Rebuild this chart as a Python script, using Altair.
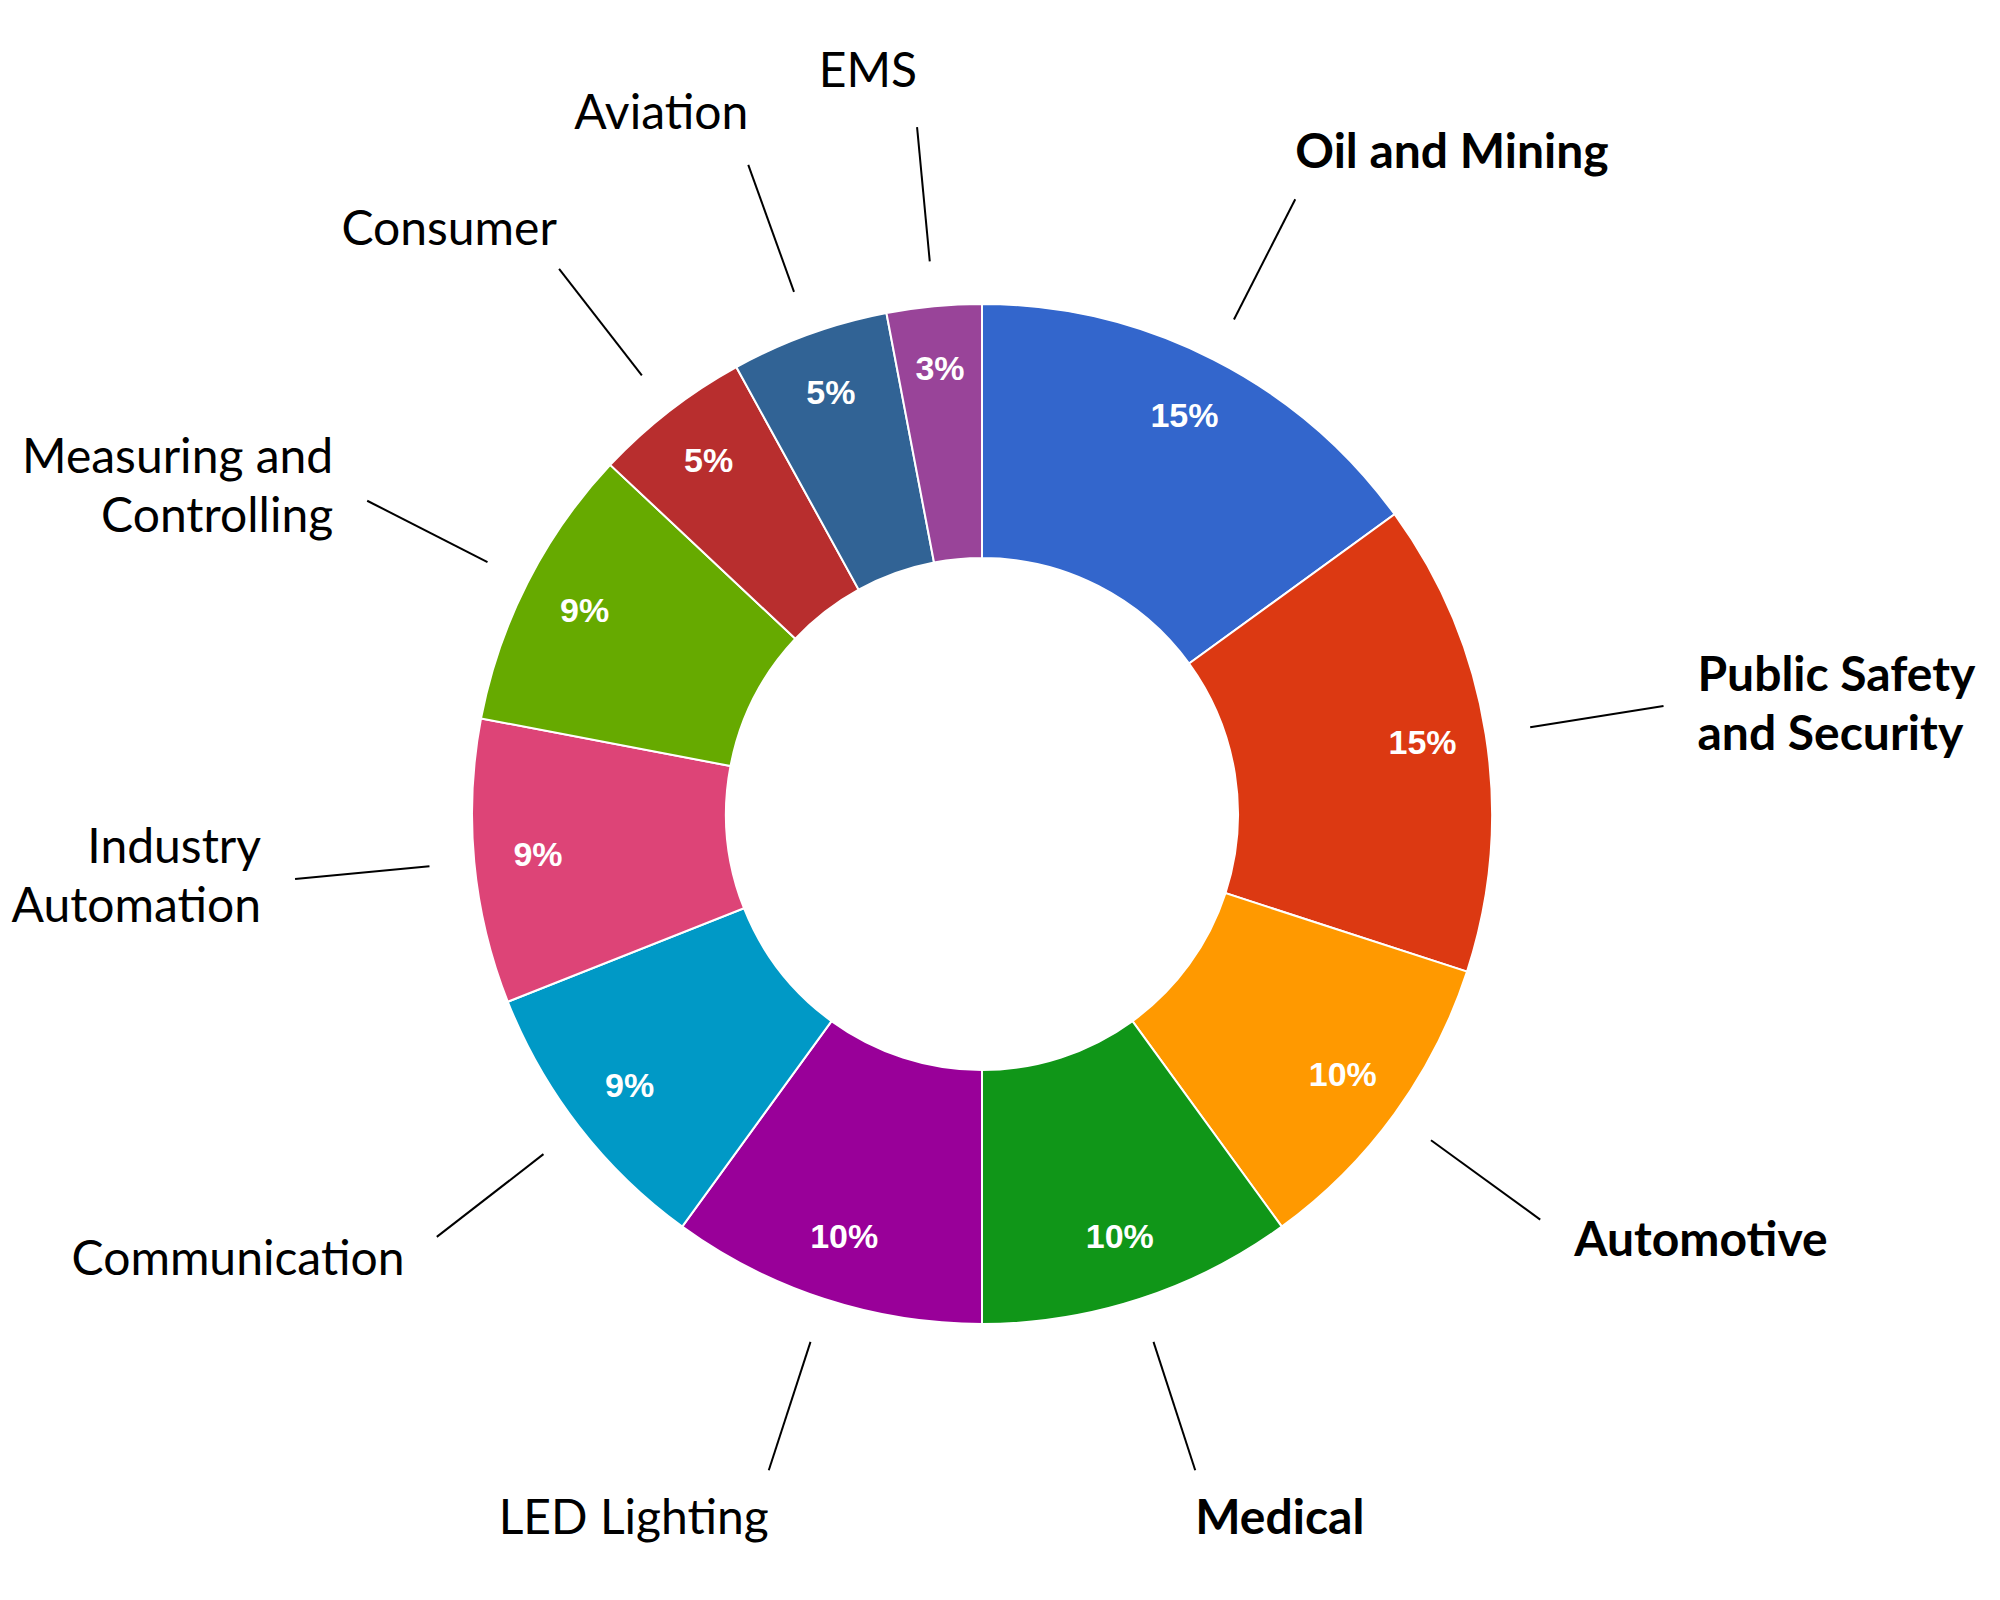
import altair as alt
import pandas as pd

categories = [
    "Oil and Mining", "Public Safety\nand Security", "Automotive", "Medical",
    "LED Lighting", "Communication", "Industry\nAutomation",
    "Measuring and\nControlling", "Consumer", "Aviation", "EMS",
]
values = [15, 15, 10, 10, 10, 9, 9, 9, 5, 5, 3]
highlighted = [True, True, True, True, False, False, False, False, False, False, False]
colors = ["#3366CC", "#DC3912", "#FF9900", "#109618", "#990099", "#0099C6",
          "#DD4477", "#66AA00", "#B82E2E", "#316395", "#994499"]

df = pd.DataFrame({
    "category": categories,
    "value": values,
    "bold": highlighted,
    "idx": list(range(len(categories))),
})

CX, CY = 974, 806
R_OUT, R_IN = 510, 256
R_PCT = 446
R1, R2 = 555, 690
LH = 59

base = alt.Chart(df)

arcs = base.mark_arc(radius=R_OUT, radius2=R_IN, stroke="white", strokeWidth=2).encode(
    theta=alt.Theta("value:Q", stack=True),
    color=alt.Color("category:N", scale=alt.Scale(domain=categories, range=colors), legend=None),
    order=alt.Order("idx:Q", sort="ascending"),
    x=alt.value(CX), y=alt.value(CY),
)

pct = base.transform_calculate(
    pct_label="format(datum.value, 'd') + '%'"
).mark_text(
    radius=R_PCT, font="Liberation Sans, Arial", fontSize=34, fontWeight="bold",
    color="white", align="center", baseline="middle",
).encode(
    theta=alt.Theta("value:Q", stack=True),
    order=alt.Order("idx:Q", sort="ascending"),
    text="pct_label:N",
    x=alt.value(CX), y=alt.value(CY),
)

geo = base.transform_joinaggregate(
    total="sum(value)"
).transform_window(
    cum="sum(value)", sort=[alt.SortField("idx", order="ascending")],
    frame=[None, 0],
).transform_calculate(
    th="2*PI*(datum.cum - datum.value/2)/datum.total"
).transform_calculate(
    s="sin(datum.th)", c="cos(datum.th)",
    lines="split(datum.category, '\\n')",
).transform_calculate(
    lx1=f"{CX} + {R1}*datum.s", ly1=f"{CY} - {R1}*datum.c",
    lx2=f"{CX} + {R2}*datum.s", ly2=f"{CY} - {R2}*datum.c",
    vshift="abs(datum.c) > 0.3 ? -54*(datum.c - 0.3*(datum.c > 0 ? 1 : -1))/0.7 : 0",
    hshift="(datum.s >= 0 ? 1 : -1)*34*clamp((abs(datum.s) - 0.6)/0.2, 0, 1)",
).transform_calculate(
    tx="datum.lx2 + datum.hshift",
    ty=f"datum.ly2 + datum.vshift - (length(datum.lines) - 1)*{LH}/2",
    side="datum.s >= 0 ? 'L' : 'R'",
)

lines = geo.mark_rule(color="black", strokeWidth=2).encode(
    x=alt.X("lx1:Q", scale=None, axis=None),
    y=alt.Y("ly1:Q", scale=None, axis=None),
    x2="lx2:Q", y2="ly2:Q",
)

label_layers = []
for side, align in [("L", "left"), ("R", "right")]:
    for bold in [True, False]:
        cond = f"datum.side == '{side}' && {'datum.bold' if bold else '!datum.bold'}"
        label_layers.append(
            geo.transform_filter(cond).mark_text(
                font="Lato", fontSize=48, fontWeight="bold" if bold else "normal",
                color="black", align=align, baseline="middle", lineHeight=LH,
            ).encode(
                x=alt.X("tx:Q", scale=None, axis=None),
                y=alt.Y("ty:Q", scale=None, axis=None),
                text="lines:N",
            )
        )

chart = alt.layer(arcs, pct, lines, *label_layers).properties(
    width=1984, height=1584, padding=0, autosize=alt.AutoSizeParams(type="none")
).configure_view(stroke=None)

chart.save("out.html", embed_options={"renderer": "svg", "actions": False})
